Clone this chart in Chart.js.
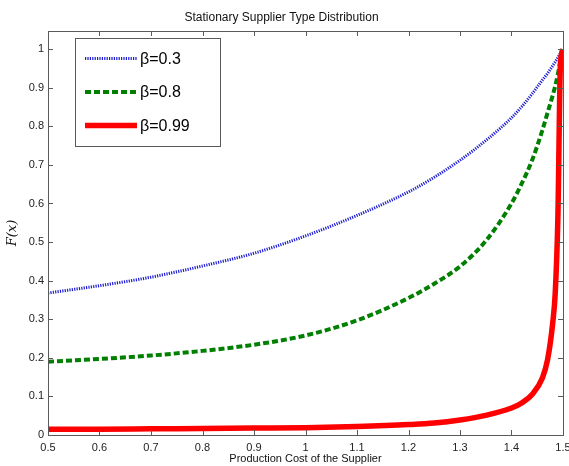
<!DOCTYPE html>
<html>
<head>
<meta charset="utf-8">
<script src="https://cdn.jsdelivr.net/npm/chart.js@4"></script>
<style>
  body { margin: 0; background: #fff; }
  canvas { display: block; }
</style>
</head>
<body>
<canvas id="supplierChart" width="569" height="466"></canvas>
<script>
// production cost grid (x) and F(x) for each beta
const costs = [0.5, 0.6, 0.7, 0.8, 0.9, 1.0, 1.1, 1.2, 1.25, 1.3, 1.35, 1.4, 1.42, 1.44, 1.46, 1.47, 1.48, 1.485, 1.49, 1.495, 1.5];
const fBeta03 = [0.368, 0.387, 0.409, 0.438, 0.471, 0.516, 0.569, 0.630, 0.668, 0.712, 0.763, 0.822, 0.851, 0.884, 0.920, 0.937, 0.957, 0.967, 0.978, 0.989, 1.0];
const fBeta08 = [0.190, 0.197, 0.206, 0.218, 0.234, 0.258, 0.297, 0.355, 0.392, 0.437, 0.503, 0.600, 0.652, 0.712, 0.790, 0.835, 0.880, 0.905, 0.935, 0.970, 1.0];
const fBeta099 = [0.015, 0.015, 0.016, 0.017, 0.018, 0.019, 0.022, 0.027, 0.031, 0.039, 0.051, 0.070, 0.083, 0.105, 0.148, 0.195, 0.290, 0.370, 0.560, 0.960, 1.0];
const seriesLabels = ["\u03b2=0.3", "\u03b2=0.8", "\u03b2=0.99"];
const xTicks = [0.5, 0.6, 0.7, 0.8, 0.9, 1.0, 1.1, 1.2, 1.3, 1.4, 1.5];
const yTicks = [0, 0.1, 0.2, 0.3, 0.4, 0.5, 0.6, 0.7, 0.8, 0.9, 1.0];

const toPoints = (vals) => costs.map((c, i) => ({ x: c, y: vals[i] }));
const axisColor = "#5a5a5a";
const fontFam = "'Liberation Sans', Arial, sans-serif";

// box round the plot, inward ticks on all four sides, legend inside
const matlabAxes = {
  id: "matlabAxes",
  afterDraw(chart) {
    const { ctx, chartArea: a, scales } = chart;
    const tl = 5;
    ctx.save();
    ctx.strokeStyle = axisColor;
    ctx.lineWidth = 1;
    ctx.beginPath();
    xTicks.forEach((v) => {
      const px = Math.round(scales.x.getPixelForValue(v)) + 0.5;
      ctx.moveTo(px, a.bottom); ctx.lineTo(px, a.bottom - tl);
      ctx.moveTo(px, a.top); ctx.lineTo(px, a.top + tl);
    });
    yTicks.forEach((v) => {
      const py = Math.round(scales.y.getPixelForValue(v)) + 0.5;
      ctx.moveTo(a.left, py); ctx.lineTo(a.left + tl, py);
      ctx.moveTo(a.right, py); ctx.lineTo(a.right - tl, py);
    });
    ctx.stroke();
    ctx.strokeRect(Math.round(a.left) + 0.5, Math.round(a.top) + 0.5,
      Math.round(a.right - a.left), Math.round(a.bottom - a.top));

    // legend
    const lx = 75.5, ly = 38.5, lw = 145, lh = 108;
    ctx.fillStyle = "#fff";
    ctx.fillRect(lx, ly, lw, lh);
    ctx.strokeStyle = axisColor;
    ctx.strokeRect(lx, ly, lw, lh);
    const rows = [58.5, 92, 125.5];
    chart.data.datasets.forEach((ds, i) => {
      const y = rows[i];
      ctx.save();
      ctx.strokeStyle = ds.borderColor;
      ctx.lineWidth = ds.borderWidth;
      ctx.setLineDash(ds.borderDash || []);
      ctx.beginPath();
      ctx.moveTo(85, y);
      ctx.lineTo(137, y);
      ctx.stroke();
      ctx.restore();
      ctx.fillStyle = "#000";
      ctx.font = "16px " + fontFam;
      ctx.textBaseline = "middle";
      ctx.textAlign = "left";
      ctx.fillText(ds.label, 140, y + 1);
    });
    ctx.restore();
  }
};

new Chart(document.getElementById("supplierChart"), {
  type: "line",
  data: {
    datasets: [
      {
        label: seriesLabels[0],
        data: toPoints(fBeta03),
        borderColor: "#1c1cd0",
        borderWidth: 3,
        borderDash: [1.2, 1.2],
        order: 3
      },
      {
        label: seriesLabels[1],
        data: toPoints(fBeta08),
        borderColor: "#007f00",
        borderWidth: 4,
        borderDash: [6, 3],
        order: 2
      },
      {
        label: seriesLabels[2],
        data: toPoints(fBeta099),
        borderColor: "#ff0000",
        borderWidth: 5.5,
        order: 1
      }
    ]
  },
  options: {
    responsive: false,
    animation: false,
    layout: { padding: { left: 0, right: 6, top: 0, bottom: 0 } },
    elements: {
      point: { radius: 0 },
      line: { fill: false, cubicInterpolationMode: "monotone", borderCapStyle: "butt" }
    },
    plugins: {
      legend: { display: false },
      tooltip: { enabled: false },
      title: {
        display: true,
        text: "Stationary Supplier Type Distribution",
        color: "#111",
        font: { family: fontFam, size: 12, weight: "normal" },
        padding: { top: 10, bottom: 6.6 }
      }
    },
    scales: {
      x: {
        type: "linear",
        min: 0.5,
        max: 1.5,
        grid: { display: false, drawTicks: false },
        border: { display: false },
        afterBuildTicks: (s) => { s.ticks = xTicks.map((v) => ({ value: v })); },
        afterFit: (s) => { s.height = 31; s.paddingLeft = 0; s.paddingRight = 0; },
        ticks: {
          padding: 6,
          color: "#222",
          font: { family: fontFam, size: 11 },
          maxRotation: 0,
          callback: (v) => String(Math.round(v * 10) / 10)
        },
        title: {
          display: true,
          text: "Production Cost of the Supplier",
          color: "#111",
          font: { family: fontFam, size: 11 },
          padding: { top: 0, bottom: 0 }
        }
      },
      y: {
        type: "linear",
        min: 0,
        max: 1.047,
        grid: { display: false, drawTicks: false },
        border: { display: false },
        afterBuildTicks: (s) => { s.ticks = yTicks.map((v) => ({ value: v })); },
        afterFit: (s) => { s.width = 48; s.paddingTop = 0; s.paddingBottom = 0; },
        ticks: {
          padding: 4,
          color: "#222",
          font: { family: fontFam, size: 11 },
          callback: (v) => String(Math.round(v * 10) / 10)
        },
        title: {
          display: true,
          text: "F(x)",
          color: "#111",
          font: { family: "'DejaVu Serif', 'Liberation Serif', serif", size: 13, style: "italic" },
          padding: { top: 5, bottom: 0 }
        }
      }
    }
  },
  plugins: [matlabAxes]
});
</script>
</body>
</html>
